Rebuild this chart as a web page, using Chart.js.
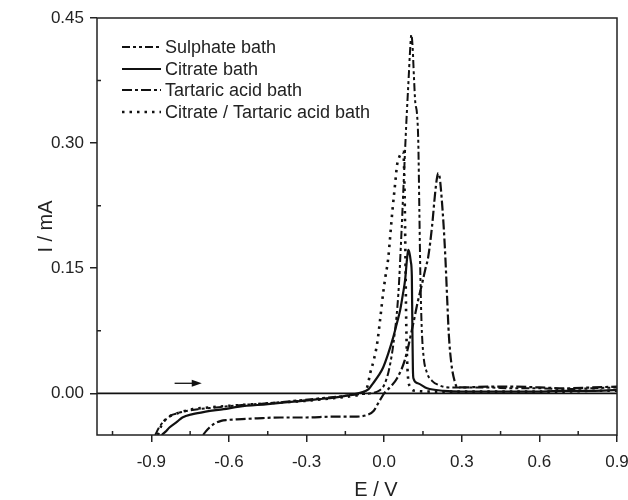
<!DOCTYPE html>
<html>
<head>
<meta charset="utf-8">
<script src="https://cdn.jsdelivr.net/npm/chart.js@4.4.1/dist/chart.umd.min.js"></script>
<style>
  html, body { margin: 0; padding: 0; background: #fff; }
</style>
</head>
<body>
<canvas id="cv" width="628" height="500"></canvas>
<script>
// ---- data (E in V, I in mA) ----
const sulphateE = [-0.885, -0.87, -0.85, -0.82, -0.80, -0.76, -0.72, -0.65, -0.55, -0.45, -0.35, -0.25, -0.15, -0.09, -0.05, -0.02, 0.0, 0.02, 0.04, 0.055, 0.065, 0.075, 0.085, 0.095, 0.1, 0.105, 0.11, 0.115, 0.12, 0.127, 0.132, 0.136, 0.14, 0.145, 0.152, 0.165, 0.185, 0.21, 0.25, 0.3, 0.4, 0.5, 0.6, 0.7, 0.8, 0.9];
const sulphateI = [-0.05, -0.041, -0.033, -0.026, -0.024, -0.021, -0.019, -0.017, -0.014, -0.012, -0.009, -0.006, -0.003, -0.001, 0.0, 0.003, 0.01, 0.03, 0.07, 0.12, 0.18, 0.25, 0.32, 0.38, 0.41, 0.43, 0.415, 0.38, 0.35, 0.335, 0.30, 0.22, 0.14, 0.08, 0.045, 0.025, 0.015, 0.01, 0.007, 0.007, 0.007, 0.006, 0.006, 0.005, 0.006, 0.007];

const citrateE = [-0.86, -0.845, -0.83, -0.80, -0.78, -0.74, -0.69, -0.62, -0.56, -0.45, -0.35, -0.25, -0.15, -0.09, -0.06, -0.043, -0.02, -0.004, 0.015, 0.035, 0.05, 0.062, 0.072, 0.081, 0.088, 0.093, 0.098, 0.103, 0.107, 0.109, 0.111, 0.113, 0.13, 0.166, 0.23, 0.3, 0.4, 0.5, 0.6, 0.7, 0.8, 0.9];
const citrateI = [-0.05, -0.046, -0.041, -0.034, -0.029, -0.025, -0.022, -0.019, -0.016, -0.013, -0.010, -0.007, -0.003, 0.001, 0.005, 0.012, 0.022, 0.031, 0.047, 0.067, 0.085, 0.1, 0.118, 0.136, 0.16, 0.172, 0.168, 0.158, 0.14, 0.08, 0.03, 0.018, 0.012, 0.006, 0.003, 0.002, 0.002, 0.002, 0.002, 0.003, 0.003, 0.004];

const tartaricE = [-0.70, -0.69, -0.675, -0.654, -0.63, -0.608, -0.55, -0.49, -0.4, -0.3, -0.2, -0.12, -0.066, -0.04, -0.027, -0.012, 0.0, 0.025, 0.05, 0.08, 0.11, 0.13, 0.147, 0.16, 0.17, 0.185, 0.197, 0.204, 0.209, 0.215, 0.222, 0.23, 0.237, 0.244, 0.25, 0.26, 0.272, 0.283, 0.3, 0.4, 0.5, 0.6, 0.7, 0.8, 0.9];
const tartaricI = [-0.05, -0.046, -0.041, -0.036, -0.033, -0.032, -0.031, -0.030, -0.029, -0.029, -0.028, -0.028, -0.026, -0.021, -0.014, -0.006, 0.0, 0.008, 0.018, 0.04, 0.08, 0.11, 0.132, 0.15, 0.163, 0.2, 0.24, 0.258, 0.264, 0.258, 0.235, 0.2, 0.16, 0.11, 0.07, 0.035, 0.015, 0.007, 0.007, 0.008, 0.008, 0.007, 0.006, 0.007, 0.008];

const citTarE = [-0.875, -0.86, -0.84, -0.81, -0.78, -0.74, -0.68, -0.6, -0.5, -0.4, -0.3, -0.2, -0.12, -0.085, -0.065, -0.054, -0.04, -0.027, -0.015, -0.004, 0.005, 0.015, 0.031, 0.043, 0.05, 0.058, 0.066, 0.072, 0.076, 0.079, 0.082, 0.085, 0.09, 0.1, 0.12, 0.2, 0.3, 0.4, 0.5, 0.6, 0.7, 0.8, 0.9];
const citTarI = [-0.05, -0.038, -0.03, -0.025, -0.022, -0.019, -0.017, -0.015, -0.013, -0.011, -0.009, -0.006, -0.003, 0.0, 0.008, 0.024, 0.04, 0.06, 0.09, 0.12, 0.14, 0.16, 0.216, 0.253, 0.274, 0.283, 0.288, 0.29, 0.28, 0.24, 0.17, 0.09, 0.03, 0.008, 0.003, 0.002, 0.002, 0.002, 0.002, 0.002, 0.002, 0.003, 0.003];

const seriesNames = ['Sulphate bath', 'Citrate bath', 'Tartaric acid bath', 'Citrate / Tartaric acid bath'];
const xTicks = [-0.9, -0.6, -0.3, 0.0, 0.3, 0.6, 0.9];
const xMinor = [-1.05, -0.75, -0.45, -0.15, 0.15, 0.45, 0.75];
const yTicks = [0.0, 0.15, 0.30, 0.45];
const yMinor = [0.075, 0.225, 0.375];
const sweepArrow = [-0.81, -0.705, 0.012]; // x from, x to, y

const ink = '#111';
const textInk = '#222';
const dashes = [[8, 3, 3, 3, 3, 3], [], [10, 3, 3, 3], [2.5, 5]];
const widths = [2, 2.2, 2.2, 2.6];

const toPts = (xs, ys) => xs.map((x, i) => ({x: x, y: ys[i]}));
const allData = [
    toPts(sulphateE, sulphateI),
    toPts(citrateE, citrateI),
    toPts(tartaricE, tartaricI),
    toPts(citTarE, citTarI)
];

const decor = {
    id: 'decor',
    beforeDatasetsDraw(chart) {
        const {ctx, chartArea: a, scales: {y}} = chart;
        const y0 = y.getPixelForValue(0);
        ctx.save();
        ctx.strokeStyle = ink;
        ctx.lineWidth = 1.8;
        ctx.beginPath();
        ctx.moveTo(a.left, y0);
        ctx.lineTo(a.right, y0);
        ctx.stroke();
        ctx.restore();
    },
    afterDatasetsDraw(chart) {
        const {ctx, chartArea: a, scales: {x, y}} = chart;
        ctx.save();
        // frame
        ctx.strokeStyle = textInk;
        ctx.lineWidth = 1.5;
        ctx.strokeRect(a.left, a.top, a.right - a.left, a.bottom - a.top);
        // minor ticks pointing inward
        ctx.beginPath();
        xMinor.forEach(v => {
            const px = x.getPixelForValue(v);
            ctx.moveTo(px, a.bottom);
            ctx.lineTo(px, a.bottom - 4);
        });
        yMinor.forEach(v => {
            const py = y.getPixelForValue(v);
            ctx.moveTo(a.left, py);
            ctx.lineTo(a.left + 4, py);
        });
        ctx.stroke();

        // sweep direction arrow
        const ax0 = x.getPixelForValue(sweepArrow[0]);
        const ax1 = x.getPixelForValue(sweepArrow[1]);
        const ay = y.getPixelForValue(sweepArrow[2]);
        ctx.strokeStyle = ink;
        ctx.fillStyle = ink;
        ctx.lineWidth = 1.3;
        ctx.beginPath();
        ctx.moveTo(ax0, ay);
        ctx.lineTo(ax1 - 8, ay);
        ctx.stroke();
        ctx.beginPath();
        ctx.moveTo(ax1, ay);
        ctx.lineTo(ax1 - 10, ay - 3.5);
        ctx.lineTo(ax1 - 10, ay + 3.5);
        ctx.closePath();
        ctx.fill();

        // legend
        const rows = [29, 51, 72, 94];
        ctx.font = '18px "Liberation Sans", Arial, sans-serif';
        ctx.textBaseline = 'middle';
        ctx.textAlign = 'left';
        seriesNames.forEach((name, i) => {
            const ry = a.top + rows[i];
            ctx.strokeStyle = ink;
            ctx.lineWidth = widths[i];
            ctx.setLineDash(dashes[i]);
            ctx.beginPath();
            ctx.moveTo(a.left + 25, ry);
            ctx.lineTo(a.left + 64, ry);
            ctx.stroke();
            ctx.setLineDash([]);
            ctx.fillStyle = textInk;
            ctx.fillText(name, a.left + 68, ry + 1);
        });

        // axis titles
        ctx.font = '20px "Liberation Sans", Arial, sans-serif';
        ctx.textAlign = 'center';
        ctx.fillText('E / V', 376, 490);
        ctx.translate(46, (a.top + a.bottom) / 2);
        ctx.rotate(-Math.PI / 2);
        ctx.fillText('I / mA', 0, 0);
        ctx.restore();
    }
};

const tickFont = {family: '"Liberation Sans", Arial, sans-serif', size: 17};

new Chart(document.getElementById('cv').getContext('2d'), {
    type: 'line',
    data: {
        datasets: allData.map((pts, i) => ({
            label: seriesNames[i],
            data: pts,
            borderColor: ink,
            borderWidth: widths[i],
            borderDash: dashes[i],
            borderCapStyle: 'butt',
            pointRadius: 0,
            fill: false,
            cubicInterpolationMode: 'monotone'
        }))
    },
    options: {
        responsive: false,
        animation: false,
        layout: {padding: {top: 18, right: 11, left: 0, bottom: 0}},
        plugins: {
            legend: {display: false},
            tooltip: {enabled: false}
        },
        scales: {
            x: {
                type: 'linear',
                min: -1.11,
                max: 0.9,
                afterBuildTicks: s => { s.ticks = xTicks.map(v => ({value: v})); },
                afterFit: s => { s.height = 65; s.paddingLeft = 0; s.paddingRight = 0; },
                border: {display: false},
                grid: {drawOnChartArea: false, tickLength: 7, color: textInk, lineWidth: 1.5},
                ticks: {
                    color: textInk,
                    font: tickFont,
                    padding: 10,
                    maxRotation: 0,
                    autoSkip: false,
                    callback: v => v.toFixed(1)
                }
            },
            y: {
                type: 'linear',
                min: -0.05,
                max: 0.45,
                afterBuildTicks: s => { s.ticks = yTicks.map(v => ({value: v})); },
                afterFit: s => { s.width = 97; s.paddingTop = 0; s.paddingBottom = 0; },
                border: {display: false},
                grid: {drawOnChartArea: false, tickLength: 7, color: textInk, lineWidth: 1.5},
                ticks: {
                    color: textInk,
                    font: tickFont,
                    padding: 6,
                    callback: v => v.toFixed(2)
                }
            }
        }
    },
    plugins: [decor]
});
</script>
</body>
</html>
